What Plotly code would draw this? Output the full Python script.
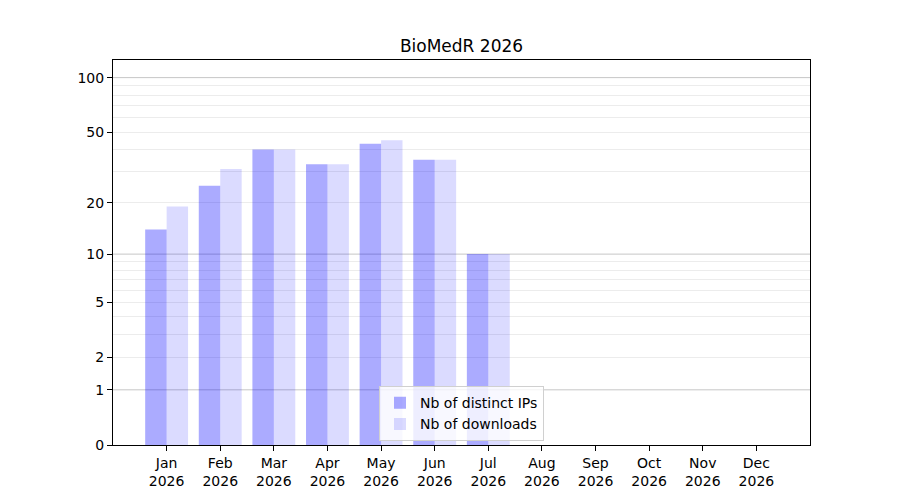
import numpy as np
import plotly.graph_objects as go

# === data ===
months = ["Jan", "Feb", "Mar", "Apr", "May", "Jun",
          "Jul", "Aug", "Sep", "Oct", "Nov", "Dec"]
year = "2026"
distinct_ips = [14, 25, 40, 33, 43, 35, 10, 0, 0, 0, 0, 0]
downloads = [19, 31, 40, 33, 45, 35, 10, 0, 0, 0, 0, 0]

y_ticks = [0, 1, 2, 5, 10, 20, 50, 100]
y_major_grid = [1, 10, 100]
y_minor_grid = [2, 3, 4, 5, 6, 7, 8, 9, 20, 30, 40, 50, 60, 70, 80, 90]
y_top = 125


def f(v):
    # log10(1 + v): keeps 0 on the axis, log-like above it
    return np.log10(1 + np.asarray(v, dtype=float))


x = list(range(len(months)))
tick_text = [f"{m}<br>{year}" for m in months]

fig = go.Figure()
fig.add_trace(go.Bar(x=x, y=f(distinct_ips), name="Nb of distinct IPs",
                     marker=dict(color="rgba(0,0,255,0.33)", line_width=0),
                     customdata=distinct_ips, hovertemplate="%{customdata}"))
fig.add_trace(go.Bar(x=x, y=f(downloads), name="Nb of downloads",
                     marker=dict(color="rgba(0,0,255,0.14)", line_width=0),
                     customdata=downloads, hovertemplate="%{customdata}"))

# darker grid at the decades
for v in y_major_grid:
    fig.add_hline(y=float(f(v)), line=dict(color="#c6c6c6", width=1),
                  layer="below")

font = "DejaVu Sans, Verdana, sans-serif"
# page body adds an 8px offset, margins account for it
fig.update_layout(
    width=900, height=500,
    plot_bgcolor="white", paper_bgcolor="white",
    margin=dict(l=105, r=98, t=52, b=63),
    font=dict(family=font, size=14, color="black"),
    title=dict(text="BioMedR 2026", xref="paper", x=0.5, xanchor="center",
               y=0.924, yanchor="middle", font=dict(size=17)),
    barmode="group", bargap=0.2, bargroupgap=0,
    showlegend=True,
    legend=dict(x=0.5, xanchor="center", y=0.01, yanchor="bottom",
                bgcolor="rgba(255,255,255,0.8)", bordercolor="#d0d0d0",
                borderwidth=1, font=dict(size=14), tracegroupgap=0),
    xaxis=dict(range=[-1, 12], tickvals=x, ticktext=tick_text,
               showgrid=False, zeroline=False,
               showline=True, mirror=True, linecolor="black", linewidth=1,
               ticks="outside", ticklen=5, tickcolor="black"),
    yaxis=dict(range=[0, float(f(y_top))], tickvals=f(y_ticks),
               ticktext=[str(t) for t in y_ticks],
               showgrid=False, zeroline=False,
               showline=True, mirror=True, linecolor="black", linewidth=1,
               ticks="outside", ticklen=5, tickcolor="black",
               minor=dict(tickmode="array", tickvals=f(y_minor_grid),
                          showgrid=True, gridcolor="#ececec", gridwidth=1,
                          ticks="")),
    hovermode="x",
)

fig.write_html("out.html")
